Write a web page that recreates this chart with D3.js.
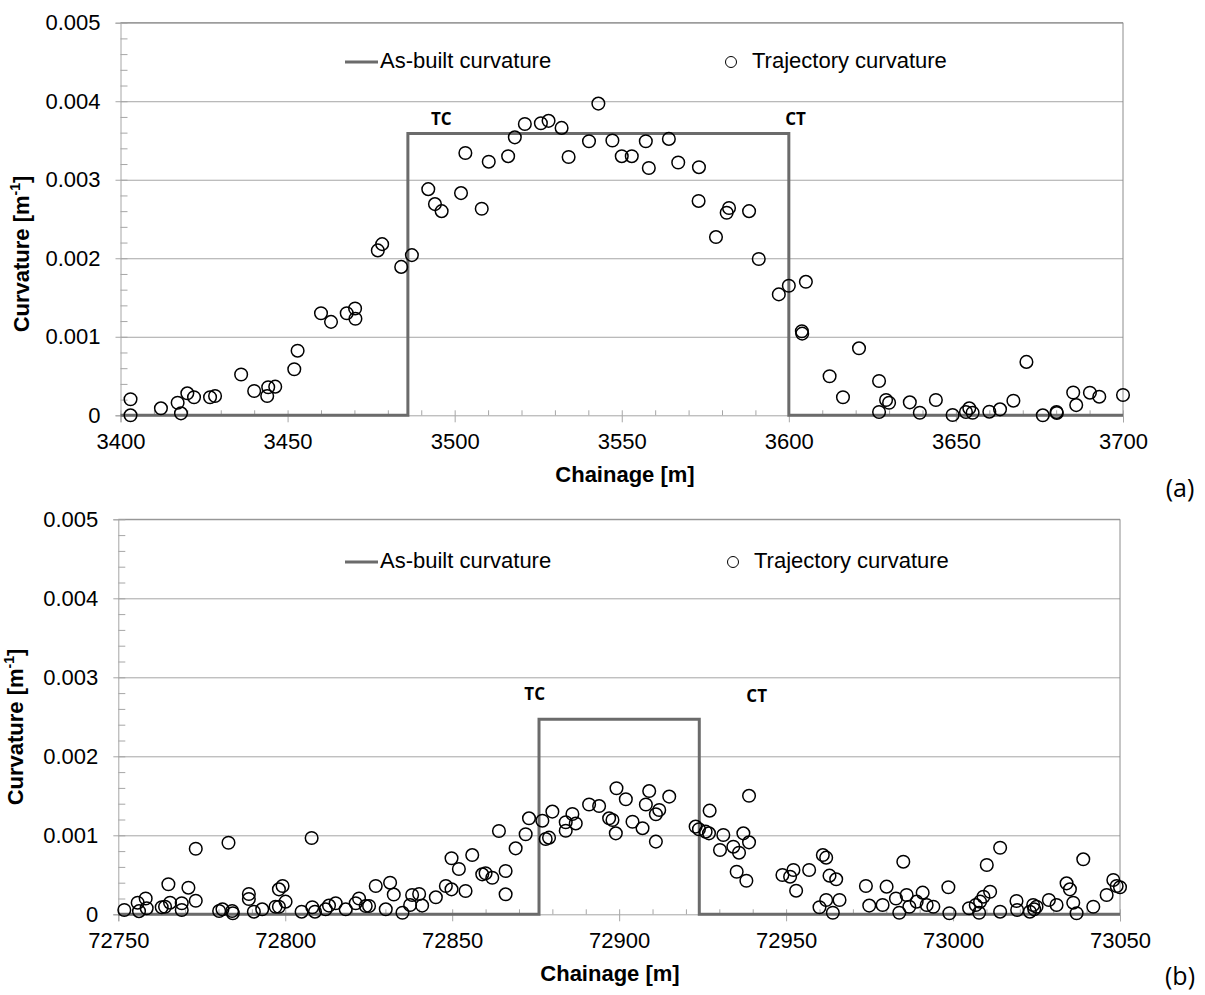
<!DOCTYPE html>
<html>
<head>
<meta charset="utf-8">
<script src="https://cdn.jsdelivr.net/npm/d3@7"></script>
<style>
  body { margin: 0; background: #fff; }
  svg { display: block; font-family: "Liberation Sans", Arial, sans-serif; }
</style>
</head>
<body>
<svg id="chart" width="1205" height="995"></svg>
<script>
// DATA ************************************************************************
// curvature values are stored in 1e-3 m^-1
const yTickValues = [0, 1, 2, 3, 4, 5];
const yTickLabels = ["0", "0.001", "0.002", "0.003", "0.004", "0.005"];

// (a) as-built step and trajectory points
const asBuiltChainA = [3400, 3486, 3486, 3600, 3600, 3700];
const asBuiltCurvA = [0, 0, 3.59, 3.59, 0, 0];
const chainA = [
  3403.0, 3403.0, 3412.1, 3417.1, 3418.1, 3420.0, 3422.0, 3426.8, 3428.3, 3436.1,
  3440.0, 3443.9, 3444.2, 3446.3, 3452.0, 3453.0, 3460.0, 3463.0, 3467.7, 3470.2,
  3470.3, 3477.0, 3478.3, 3484.0, 3487.2, 3492.1, 3494.1, 3496.1, 3501.9, 3503.2,
  3508.1, 3510.2, 3516.0, 3518.0, 3521.0, 3525.8, 3528.1, 3532.0, 3534.1, 3540.2,
  3543.0, 3547.2, 3550.0, 3553.0, 3557.2, 3558.1, 3564.1, 3566.9, 3573.1, 3573.0,
  3578.2, 3581.4, 3582.1, 3588.1, 3591.0, 3597.0, 3600.0, 3605.1, 3603.9, 3604.0,
  3612.2, 3616.2, 3621.0, 3627.0, 3627.0, 3629.1, 3630.0, 3636.2, 3639.2, 3644.0,
  3649.0, 3653.0, 3654.0, 3655.0, 3660.0, 3663.2, 3667.2, 3671.1, 3676.0, 3680.1,
  3680.2, 3685.1, 3686.0, 3690.1, 3692.9, 3700.0];
const curvA = [
  0.204, 0.000, 0.089, 0.160, 0.025, 0.280, 0.230, 0.230, 0.246, 0.520,
  0.310, 0.246, 0.357, 0.365, 0.586, 0.823, 1.300, 1.190, 1.300, 1.360,
  1.230, 2.100, 2.180, 1.890, 2.040, 2.880, 2.690, 2.600, 2.830, 3.340,
  2.630, 3.230, 3.300, 3.540, 3.710, 3.720, 3.750, 3.660, 3.290, 3.490,
  3.970, 3.500, 3.300, 3.300, 3.490, 3.150, 3.520, 3.220, 3.160, 2.730,
  2.270, 2.580, 2.640, 2.600, 1.990, 1.540, 1.650, 1.700, 1.070, 1.040,
  0.497, 0.230, 0.853, 0.437, 0.042, 0.195, 0.160, 0.165, 0.033, 0.195,
  0.004, 0.042, 0.089, 0.033, 0.046, 0.076, 0.186, 0.680, 0.000, 0.042,
  0.030, 0.290, 0.130, 0.288, 0.237, 0.259];

// (b) as-built step and trajectory points
const asBuiltChainB = [72750, 72876, 72876, 72924, 72924, 73050];
const asBuiltCurvB = [0, 0, 2.47, 2.47, 0, 0];
const chainB = [
  72751.8, 72755.8, 72756.2, 72758.2, 72758.5, 72763.0, 72764.0, 72765.0, 72765.5, 72769.0,
  72769.0, 72771.0, 72773.2, 72773.2, 72780.2, 72781.2, 72783.0, 72784.1, 72784.3, 72789.1,
  72789.1, 72790.6, 72793.1, 72797.1, 72798.1, 72799.2, 72798.1, 72800.1, 72804.9, 72807.9,
  72808.1, 72808.9, 72812.1, 72813.1, 72815.1, 72818.1, 72821.1, 72822.1, 72824.1, 72825.1,
  72827.1, 72830.1, 72831.4, 72832.5, 72835.1, 72838.0, 72837.4, 72840.1, 72841.0, 72845.1,
  72848.1, 72849.8, 72849.8, 72852.0, 72854.0, 72856.0, 72859.0, 72860.0, 72862.0, 72866.0,
  72866.0, 72864.0, 72869.0, 72872.0, 72873.0, 72877.0, 72878.0, 72879.0, 72880.0, 72884.0,
  72884.0, 72886.0, 72887.0, 72891.0, 72894.0, 72897.0, 72898.0, 72899.0, 72899.2, 72902.0,
  72904.0, 72907.0, 72908.0, 72909.0, 72911.0, 72911.0, 72912.0, 72915.0, 72922.9, 72923.9,
  72925.9, 72926.9, 72927.1, 72931.2, 72930.2, 72934.2, 72935.2, 72935.9, 72937.2, 72938.9,
  72938.1, 72938.9, 72948.9, 72951.2, 72952.2, 72953.0, 72956.9, 72960.0, 72961.0, 72962.0,
  72962.0, 72963.0, 72964.0, 72965.0, 72966.0, 72973.9, 72974.9, 72978.9, 72980.1, 72982.9,
  72983.9, 72985.1, 72986.1, 72986.9, 72989.1, 72990.9, 72992.1, 72994.1, 72998.6, 72998.9,
  73004.8, 73006.8, 73007.8, 73008.1, 73009.1, 73010.1, 73011.1, 73014.1, 73014.1, 73019.0,
  73019.2, 73023.0, 73024.0, 73024.3, 73025.0, 73028.7, 73031.0, 73034.0, 73035.0, 73036.0,
  73037.0, 73039.0, 73042.0, 73046.0, 73048.0, 73049.0, 73050.0];
const curvB = [
  0.054, 0.147, 0.040, 0.200, 0.076, 0.089, 0.096, 0.380, 0.147, 0.140,
  0.054, 0.337, 0.830, 0.172, 0.042, 0.063, 0.906, 0.042, 0.013, 0.257,
  0.194, 0.033, 0.063, 0.096, 0.316, 0.358, 0.096, 0.160, 0.033, 0.966,
  0.089, 0.033, 0.063, 0.110, 0.140, 0.063, 0.140, 0.200, 0.105, 0.105,
  0.358, 0.063, 0.400, 0.250, 0.020, 0.244, 0.118, 0.257, 0.110, 0.215,
  0.358, 0.316, 0.709, 0.573, 0.295, 0.750, 0.506, 0.519, 0.463, 0.548,
  0.253, 1.054, 0.835, 1.013, 1.215, 1.185, 0.953, 0.970, 1.300, 1.165,
  1.058, 1.270, 1.150, 1.390, 1.370, 1.215, 1.194, 1.025, 1.595, 1.456,
  1.172, 1.090, 1.390, 1.560, 0.920, 1.266, 1.320, 1.490, 1.110, 1.076,
  1.046, 1.025, 1.312, 1.004, 0.814, 0.856, 0.539, 0.780, 1.025, 0.911,
  0.425, 1.500, 0.497, 0.476, 0.561, 0.299, 0.561, 0.089, 0.750, 0.717,
  0.181, 0.489, 0.020, 0.443, 0.181, 0.358, 0.110, 0.118, 0.350, 0.200,
  0.020, 0.666, 0.244, 0.096, 0.160, 0.274, 0.118, 0.096, 0.342, 0.013,
  0.076, 0.118, 0.020, 0.160, 0.223, 0.624, 0.286, 0.843, 0.033, 0.168,
  0.054, 0.033, 0.118, 0.063, 0.096, 0.181, 0.118, 0.392, 0.316, 0.147,
  0.013, 0.696, 0.096, 0.244, 0.434, 0.358, 0.342];

const xTicksA = [3400, 3450, 3500, 3550, 3600, 3650, 3700];
const xTicksB = [72750, 72800, 72850, 72900, 72950, 73000, 73050];
const markLabelsA = [{t: "TC", c: 3496, v: 3.75}, {t: "CT", c: 3602, v: 3.76}];
const markLabelsB = [{t: "TC", c: 72874.7, v: 2.77}, {t: "CT", c: 72941.2, v: 2.75}];

// DRAWING *********************************************************************
const svg = d3.select("#chart");
const gridColor = "#a6a6a6";
const stepColor = "#6b6b6b";
const fontSize = 22;

function drawPanel(p) {
  const x = d3.scaleLinear().domain([p.xTicks[0], p.xTicks[p.xTicks.length - 1]]).range([p.left, p.right]);
  const y = d3.scaleLinear().domain([0, 5]).range([p.bottom, p.top]);
  const g = svg.append("g");

  // gridlines
  g.append("g")
    .attr("transform", `translate(${p.left},0)`)
    .call(d3.axisRight(y).tickValues(yTickValues.slice(1)).tickSize(p.right - p.left).tickFormat(""))
    .call(a => a.select(".domain").remove())
    .selectAll("line").attr("stroke", gridColor);

  // frame top / right
  g.append("line").attr("x1", p.left).attr("x2", p.right).attr("y1", p.top).attr("y2", p.top)
    .attr("stroke", "#8c8c8c");
  g.append("line").attr("x1", p.right).attr("x2", p.right).attr("y1", p.top).attr("y2", p.bottom)
    .attr("stroke", "#8c8c8c");

  // y axis: major ticks + labels
  const ya = g.append("g")
    .attr("transform", `translate(${p.left},0)`)
    .call(d3.axisLeft(y).tickValues(yTickValues).tickSize(5).tickPadding(15)
      .tickFormat((d, i) => yTickLabels[i]));
  ya.select(".domain").attr("stroke", gridColor);
  ya.selectAll("line").attr("stroke", gridColor);
  ya.selectAll("text").attr("font-size", fontSize).attr("fill", "#000")
    .attr("font-family", "Liberation Sans, Arial, sans-serif");

  // y minor ticks inside
  g.append("g")
    .attr("transform", `translate(${p.left},0)`)
    .call(d3.axisRight(y).tickValues(d3.range(0, 5.001, 0.2)).tickSize(7).tickFormat(""))
    .call(a => a.select(".domain").remove())
    .selectAll("line").attr("stroke", gridColor);

  // x minor ticks inside
  g.append("g")
    .attr("transform", `translate(0,${p.bottom})`)
    .call(d3.axisTop(x).tickValues(d3.range(p.xTicks[0], p.xTicks[p.xTicks.length - 1] + 1, 10)).tickSize(5).tickFormat(""))
    .call(a => a.select(".domain").remove())
    .selectAll("line").attr("stroke", gridColor);

  // x axis major ticks + labels
  const xa = g.append("g")
    .attr("transform", `translate(0,${p.bottom})`)
    .call(d3.axisBottom(x).tickValues(p.xTicks).tickSize(7).tickPadding(11).tickFormat(d3.format("d")));
  xa.select(".domain").attr("stroke", gridColor);
  xa.selectAll("line").attr("stroke", gridColor);
  xa.selectAll("text").attr("font-size", fontSize).attr("fill", "#000")
    .attr("font-family", "Liberation Sans, Arial, sans-serif");

  // as-built curvature
  const line = d3.line().x(d => x(d[0])).y(d => y(d[1]));
  g.append("path")
    .datum(d3.zip(p.stepChain, p.stepCurv))
    .attr("d", line)
    .attr("fill", "none")
    .attr("stroke", stepColor)
    .attr("stroke-width", 3);

  // trajectory curvature
  g.append("g").selectAll("circle")
    .data(d3.zip(p.chain, p.curv))
    .join("circle")
    .attr("cx", d => x(d[0]))
    .attr("cy", d => y(d[1]))
    .attr("r", 6.3)
    .attr("fill", "none")
    .attr("stroke", "#000")
    .attr("stroke-width", 1.5);

  // TC / CT
  g.append("g").selectAll("text")
    .data(p.marks)
    .join("text")
    .attr("x", d => x(d.c))
    .attr("y", d => y(d.v))
    .attr("text-anchor", "middle")
    .attr("dominant-baseline", "middle")
    .attr("font-family", "Open Sans, Noto Sans, sans-serif")
    .attr("font-weight", "bold")
    .attr("font-size", 17)
    .text(d => d.t);

  // legend
  const lg = g.append("g");
  lg.append("line").attr("x1", 345).attr("x2", 378).attr("y1", p.legendY).attr("y2", p.legendY)
    .attr("stroke", stepColor).attr("stroke-width", 3);
  lg.append("text").attr("x", 380).attr("y", p.legendY).attr("dominant-baseline", "middle")
    .attr("font-size", fontSize).text("As-built curvature");
  lg.append("circle").attr("cx", p.legendCx).attr("cy", p.legendY).attr("r", 5.5)
    .attr("fill", "none").attr("stroke", "#000").attr("stroke-width", 1);
  lg.append("text").attr("x", p.legendCx + 21).attr("y", p.legendY).attr("dominant-baseline", "middle")
    .attr("font-size", fontSize).text("Trajectory curvature");

  // axis titles
  g.append("text")
    .attr("x", p.xTitleX).attr("y", p.bottom + 61)
    .attr("text-anchor", "middle").attr("dominant-baseline", "middle")
    .attr("font-weight", "bold").attr("font-size", fontSize)
    .text("Chainage [m]");
  const yt = g.append("text")
    .attr("transform", `translate(${p.yTitleX},${p.yTitleY}) rotate(-90)`)
    .attr("text-anchor", "middle").attr("dominant-baseline", "middle")
    .attr("font-weight", "bold").attr("font-size", fontSize);
  yt.append("tspan").text("Curvature [m");
  yt.append("tspan").attr("font-size", 14).attr("dy", -7).text("-1");
  yt.append("tspan").attr("dy", 7).text("]");

  // panel tag
  g.append("text")
    .attr("x", 1180).attr("y", p.tagY)
    .attr("text-anchor", "middle").attr("dominant-baseline", "middle")
    .attr("font-family", "Open Sans, Noto Sans, sans-serif")
    .attr("font-size", 25)
    .text(p.tag);
}

drawPanel({
  left: 120.5, right: 1123, top: 22.7, bottom: 415.3,
  xTicks: xTicksA, chain: chainA, curv: curvA,
  stepChain: asBuiltChainA, stepCurv: asBuiltCurvA,
  marks: markLabelsA, legendY: 62, legendCx: 731,
  xTitleX: 625, yTitleX: 23, yTitleY: 254, tag: "(a)", tagY: 490
});

drawPanel({
  left: 118.3, right: 1120, top: 519.3, bottom: 914.3,
  xTicks: xTicksB, chain: chainB, curv: curvB,
  stepChain: asBuiltChainB, stepCurv: asBuiltCurvB,
  marks: markLabelsB, legendY: 562, legendCx: 733,
  xTitleX: 610, yTitleX: 17, yTitleY: 727, tag: "(b)", tagY: 978
});
</script>
</body>
</html>
